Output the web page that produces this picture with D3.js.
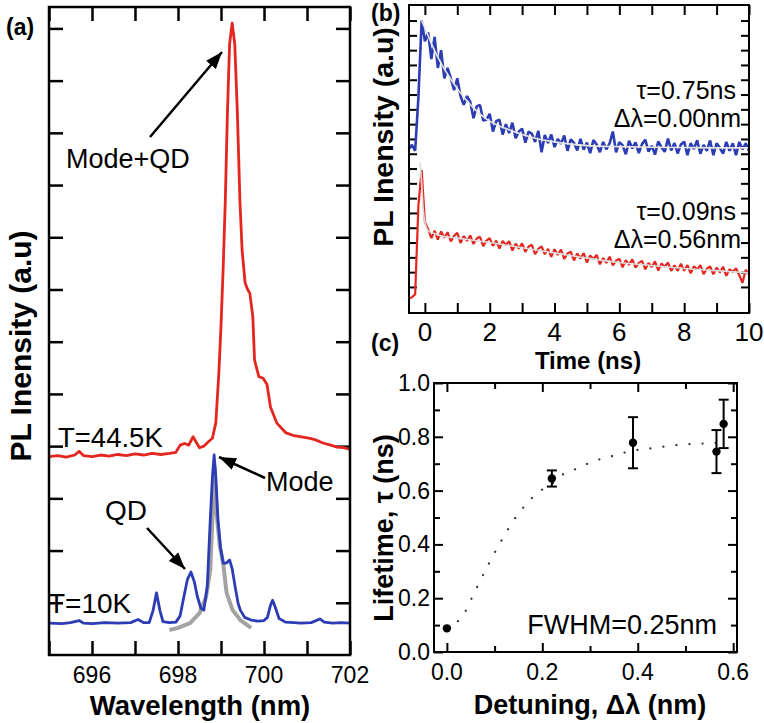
<!DOCTYPE html>
<html><head><meta charset="utf-8">
<script src="https://cdn.jsdelivr.net/npm/d3@7"></script>
<style>body{margin:0;background:#fff}svg{display:block}text{font-family:"Liberation Sans",Arial,sans-serif;fill:#000}</style>
</head><body><svg id="fig" width="764" height="723"></svg>
<script>
// ---------- Panel (a): PL spectra ----------
const redWl = [695.00,695.20,695.40,695.60,695.70,695.80,696.00,696.20,696.40,696.60,696.80,697.00,697.20,697.40,697.60,697.80,697.95,698.05,698.15,698.25,698.35,698.42,698.50,698.60,698.70,698.80,698.88,698.95,699.00,699.05,699.10,699.15,699.20,699.26,699.32,699.38,699.44,699.49,699.56,699.62,699.67,699.74,699.78,699.88,699.98,700.07,700.15,700.30,700.50,700.70,700.84,701.07,701.20,701.37,701.55,701.70,701.85,702.00];
const redI  = [3.80,3.82,3.79,3.83,3.90,3.82,3.80,3.83,3.81,3.84,3.82,3.85,3.83,3.86,3.84,3.86,3.88,4.02,4.05,4.02,4.18,4.08,3.97,4.00,4.08,4.15,4.45,5.40,6.30,7.40,8.70,10.4,11.7,12.1,11.7,10.4,8.70,7.76,7.13,7.00,6.93,6.48,5.65,5.33,5.30,5.18,4.75,4.44,4.26,4.20,4.18,4.15,4.12,4.06,4.02,3.98,3.97,3.94];
const blueWl = [695.00,695.30,695.50,695.70,695.80,696.00,696.30,696.60,696.90,697.07,697.20,697.33,697.42,697.50,697.58,697.65,697.80,697.95,698.05,698.12,698.22,698.30,698.38,698.45,698.53,698.60,698.68,698.75,698.80,698.84,698.88,698.93,698.99,699.05,699.12,699.20,699.26,699.33,699.40,699.45,699.55,699.70,699.85,700.00,700.08,700.15,700.20,700.26,700.35,700.50,700.70,700.85,701.10,701.30,701.40,701.60,701.80,702.00];
const blueI  = [0.61,0.60,0.62,0.66,0.61,0.60,0.62,0.61,0.62,0.68,0.62,0.62,0.85,1.19,0.85,0.64,0.62,0.63,0.75,1.05,1.45,1.59,1.40,1.12,0.90,0.86,1.30,2.58,3.40,3.83,3.40,2.58,2.05,1.76,1.76,1.82,1.65,1.30,0.98,0.86,0.72,0.67,0.65,0.66,0.72,0.95,1.05,0.92,0.70,0.63,0.62,0.61,0.62,0.69,0.63,0.61,0.62,0.61];
const grayWl = [697.80,698.00,698.28,698.50,698.65,698.75,698.80,698.85,698.90,698.97,699.05,699.13,699.27,699.45,699.70];
const grayI  = [0.48,0.52,0.61,0.80,1.10,1.63,2.60,3.60,2.70,2.10,1.76,1.19,0.86,0.67,0.52];
const aXTicks = [695,696,697,698,699,700,701,702];
const aXLabels = [696,698,700,702];
const aYTicks = [1,2,3,4,5,6,7,8,9,10,11,12];

// ---------- Panel (b): PL decay ----------
const bTime = [-0.5,-0.4,-0.3,-0.2,-0.1,0.0,0.1,0.2,0.3,0.4,0.5,0.6,0.7,0.8,0.9,1.0,1.1,1.2,1.3,1.4,1.5,1.6,1.7,1.8,1.9,2.0,2.1,2.2,2.3,2.4,2.5,2.6,2.7,2.8,2.9,3.0,3.1,3.2,3.3,3.4,3.5,3.6,3.7,3.8,3.9,4.0,4.1,4.2,4.3,4.4,4.5,4.6,4.7,4.8,4.9,5.0,5.1,5.2,5.3,5.4,5.5,5.6,5.7,5.8,5.9,6.0,6.1,6.2,6.3,6.4,6.5,6.6,6.7,6.8,6.9,7.0,7.1,7.2,7.3,7.4,7.5,7.6,7.7,7.8,7.9,8.0,8.1,8.2,8.3,8.4,8.5,8.6,8.7,8.8,8.9,9.0,9.1,9.2,9.3,9.4,9.5,9.6,9.7,9.8,9.9,10.0];
const bBlue = [9.3,9.6,9.2,12.8,18.0,16.6,17.2,15.4,16.9,14.8,16.0,14.1,14.8,14.1,13.3,14.1,12.9,12.3,12.9,12.5,11.4,12.2,12.3,11.25,11.3,11.7,10.5,11.2,11.3,10.3,11.0,10.4,11.1,10.05,10.5,10.7,9.75,10.5,10.35,9.8,10.55,9.1,10.27,9.73,10.3,9.45,10.0,9.67,10.24,9.2,9.97,9.74,9.22,10.0,9.28,9.75,9.04,9.93,9.62,9.11,9.8,9.3,9.7,10.5,9.09,9.78,9.58,8.97,9.87,9.36,9.76,9.05,9.65,9.95,9.14,9.54,8.94,9.83,9.43,9.13,10.03,9.22,9.72,9.02,9.62,9.82,8.91,9.71,9.31,9.91,9.0,9.6,9.2,9.9,8.9,9.7,9.4,9.0,9.8,9.2,9.7,8.9,9.8,9.3,9.7,9.2];
const bRed = [-0.8,-0.7,-0.5,5.5,7.9,4.4,3.9,3.3,3.8,3.2,3.75,3.32,3.7,3.07,3.45,3.65,2.97,3.44,3.11,3.48,2.9,3.27,3.39,2.76,3.13,3.3,2.77,3.13,2.6,3.11,2.83,3.09,2.46,2.92,2.59,2.95,2.37,2.73,2.85,2.21,2.58,2.74,2.21,2.57,2.04,2.55,2.17,2.53,1.9,2.26,2.38,1.79,2.26,1.92,2.29,1.65,2.12,1.89,2.16,1.53,1.95,1.62,2.04,1.46,1.78,1.9,1.33,1.81,1.49,1.87,1.3,1.63,1.76,1.19,1.62,1.35,1.73,1.11,1.59,1.37,1.65,1.08,1.46,1.09,1.57,1.1,1.48,0.92,1.4,1.19,1.47,0.86,1.24,1.38,0.86,1.3,0.98,1.37,0.75,1.19,1.02,1.26,0.79,0.28,1.16,0.85];
const bBlueFitT = [-0.1,0,0.25,0.5,0.75,1,1.25,1.5,1.75,2,2.5,3,3.5,4,4.5,5,6,7,8,9,10];
const bBlueFit  = [18.0,17.5,16.2,15.1,14.2,13.4,12.7,12.1,11.6,11.2,10.7,10.3,10.0,9.8,9.65,9.55,9.48,9.44,9.42,9.4,9.4];
const bRedFitT = [-0.15,-0.1,-0.05,0,0.05,0.1,0.3,0.5,1,2,3,4,5,6,7,8,9,10];
const bRedFit  = [8.4,7.0,5.2,4.4,4.0,3.8,3.6,3.45,3.3,3.0,2.65,2.3,1.95,1.65,1.45,1.25,1.1,0.95];
const bXTicks = [0,1,2,3,4,5,6,7,8,9,10];
const bXLabels = [0,2,4,6,8,10];
const bYTicks = [0,1,2,3,4,5,6,7,8,9,10,11,12,13,14,15,16,17,18];

// ---------- Panel (c): lifetime vs detuning ----------
const cDetuning = [0.0,0.22,0.39,0.565,0.58];
const cLifetime = [0.088,0.645,0.778,0.745,0.848];
const cError    = [0.0,0.03,0.095,0.08,0.09];
const cFitDet = [0.0,0.019,0.035,0.06,0.087,0.113,0.146,0.165,0.19,0.22,0.24,0.27,0.295,0.32,0.35,0.38,0.43,0.48,0.51,0.56,0.58];
const cFitTau = [0.09,0.108,0.14,0.23,0.325,0.41,0.505,0.547,0.592,0.625,0.657,0.68,0.70,0.716,0.73,0.745,0.758,0.769,0.773,0.777,0.78];
const cXMajor = [0,0.2,0.4,0.6], cXMinor = [0.1,0.3,0.5];
const cYMajor = [0,0.2,0.4,0.6,0.8,1.0], cYMinor = [0.1,0.3,0.5,0.7,0.9];

const svg = d3.select("#fig");
const defs = svg.append("defs");
defs.append("marker").attr("id","ah").attr("viewBox","0 0 16 12").attr("refX",16).attr("refY",6)
  .attr("markerWidth",17).attr("markerHeight",13).attr("markerUnits","userSpaceOnUse").attr("orient","auto")
  .append("path").attr("d","M0,0 L16,6 L0,12 Z").attr("fill","#000");

function ticks(g, axisFn, scale, vals, len, tr, sw) {
  const a = g.append("g").attr("transform", tr)
    .call(axisFn(scale).tickValues(vals).tickSizeInner(-len).tickSizeOuter(0).tickFormat(""));
  a.select(".domain").remove();
  a.selectAll("line").attr("stroke","#000").attr("stroke-width", sw || 2);
  a.selectAll("text").remove();
  return a;
}
function frame(g, x, y, sw) {
  const [l,r] = x.range(), [b,t] = y.range();
  g.append("rect").attr("x",l).attr("y",t).attr("width",r-l).attr("height",b-t)
    .attr("fill","none").attr("stroke","#000").attr("stroke-width",sw);
}

// ===== Panel (a) =====
{
  const g = svg.append("g");
  const x = d3.scaleLinear().domain([695,702]).range([49,350]);
  const y = d3.scaleLinear().domain([0,12.41]).range([655,7]);
  ticks(g, d3.axisBottom, x, aXTicks, 14, "translate(0,655)", 2.5);
  ticks(g, d3.axisTop, x, aXTicks, 14, "translate(0,7)", 2.5);
  ticks(g, d3.axisLeft, y, aYTicks, 14, "translate(49,0)", 2.5);
  ticks(g, d3.axisRight, y, aYTicks, 14, "translate(350,0)", 2.5);
  const line = d3.line().x(d=>x(d[0])).y(d=>y(d[1]));
  g.append("path").datum(grayWl.map((w,i)=>[w,grayI[i]])).attr("d",line).attr("fill","none")
    .attr("stroke","#a3a3a3").attr("stroke-width",4).attr("stroke-linejoin","round");
  g.append("path").datum(blueWl.map((w,i)=>[w,blueI[i]])).attr("d",line).attr("fill","none")
    .attr("stroke","#2b3cb4").attr("stroke-width",2.8).attr("stroke-linejoin","round");
  g.append("path").datum(redWl.map((w,i)=>[w,redI[i]])).attr("d",line).attr("fill","none")
    .attr("stroke","#e5261f").attr("stroke-width",2.8).attr("stroke-linejoin","round");
  frame(g, x, y, 2.5);
  g.selectAll("text.xl").data(aXLabels).join("text").attr("x",d=>x(d)).attr("y",683)
    .attr("text-anchor","middle").attr("font-size",23).text(d=>d);
  g.append("text").attr("x",200).attr("y",715).attr("text-anchor","middle").attr("font-size",27.5)
    .attr("font-weight","bold").text("Wavelength (nm)");
  g.append("text").attr("transform","translate(31,346) rotate(-90)").attr("text-anchor","middle")
    .attr("font-size",30).attr("font-weight","bold").text("PL Inensity (a.u)");
  g.append("text").attr("x",6).attr("y",35).attr("font-size",23).attr("font-weight","bold").text("(a)");
  g.append("text").attr("x",66).attr("y",168).attr("font-size",27).text("Mode+QD");
  g.append("text").attr("x",58).attr("y",447).attr("font-size",27.5).text("T=44.5K");
  g.append("text").attr("x",48).attr("y",613).attr("font-size",28).text("T=10K");
  g.append("text").attr("x",105).attr("y",520).attr("font-size",28).text("QD");
  g.append("text").attr("x",266).attr("y",491).attr("font-size",27).text("Mode");
  const arrows = [[150,137,222,52],[265,478,219,457],[147,528,185,569]];
  g.selectAll("line.ar").data(arrows).join("line").attr("x1",d=>d[0]).attr("y1",d=>d[1])
    .attr("x2",d=>d[2]).attr("y2",d=>d[3]).attr("stroke","#000").attr("stroke-width",2.5)
    .attr("marker-end","url(#ah)");
}

// ===== Panel (b) =====
{
  const g = svg.append("g");
  const x = d3.scaleLinear().domain([-0.49,10]).range([409,749]);
  const y = d3.scaleLinear().domain([-1.76,19.05]).range([313,5]);
  ticks(g, d3.axisBottom, x, bXTicks, 10, "translate(0,313)", 2);
  ticks(g, d3.axisTop, x, bXTicks, 10, "translate(0,5)", 2);
  ticks(g, d3.axisLeft, y, bYTicks, 8, "translate(409,0)", 2);
  ticks(g, d3.axisRight, y, bYTicks, 8, "translate(749,0)", 2);
  const line = d3.line().x(d=>x(d[0])).y(d=>y(d[1]));
  g.append("path").datum(bTime.map((t,i)=>[t,bBlue[i]])).attr("d",line).attr("fill","none")
    .attr("stroke","#2b3cb4").attr("stroke-width",2.6).attr("stroke-linejoin","bevel");
  g.append("path").datum(bTime.map((t,i)=>[t,bRed[i]])).attr("d",line).attr("fill","none")
    .attr("stroke","#e5261f").attr("stroke-width",2.2).attr("stroke-linejoin","bevel");
  const fl = d3.line().curve(d3.curveMonotoneX).x(d=>x(d[0])).y(d=>y(d[1]));
  g.append("path").datum(bBlueFitT.map((t,i)=>[t,bBlueFit[i]])).attr("d",fl).attr("fill","none")
    .attr("stroke","#e8e6dc").attr("stroke-width",1.6);
  g.append("path").datum(bRedFitT.map((t,i)=>[t,bRedFit[i]])).attr("d",fl).attr("fill","none")
    .attr("stroke","#dcdcdc").attr("stroke-width",1.6);
  frame(g, x, y, 2);
  g.selectAll("text.xl").data(bXLabels).join("text").attr("x",d=>x(d)).attr("y",341)
    .attr("text-anchor","middle").attr("font-size",26).text(d=>d);
  g.append("text").attr("x",588).attr("y",369).attr("text-anchor","middle").attr("font-size",24)
    .attr("font-weight","bold").text("Time (ns)");
  g.append("text").attr("transform","translate(393,137) rotate(-90)").attr("text-anchor","middle")
    .attr("font-size",28.5).attr("font-weight","bold").text("PL Inensity (a.u)");
  g.append("text").attr("x",371).attr("y",21).attr("font-size",23).attr("font-weight","bold").text("(b)");
  const ann = [["τ=0.75ns",736,99],["Δλ=0.00nm",741,127],["τ=0.09ns",736,220],["Δλ=0.56nm",741,248]];
  g.selectAll("text.an").data(ann).join("text").attr("x",d=>d[1]).attr("y",d=>d[2])
    .attr("text-anchor","end").attr("font-size",25).text(d=>d[0]);
}

// ===== Panel (c) =====
{
  const g = svg.append("g");
  const x = d3.scaleLinear().domain([-0.027,0.608]).range([434,737]);
  const y = d3.scaleLinear().domain([0,1]).range([652,383]);
  ticks(g, d3.axisBottom, x, cXMajor, 9, "translate(0,652)", 2);
  ticks(g, d3.axisBottom, x, cXMinor, 6, "translate(0,652)", 2);
  ticks(g, d3.axisTop, x, cXMajor, 9, "translate(0,383)", 2);
  ticks(g, d3.axisTop, x, cXMinor, 6, "translate(0,383)", 2);
  ticks(g, d3.axisLeft, y, cYMajor, 9, "translate(434,0)", 2);
  ticks(g, d3.axisLeft, y, cYMinor, 6, "translate(434,0)", 2);
  ticks(g, d3.axisRight, y, cYMajor, 9, "translate(737,0)", 2);
  ticks(g, d3.axisRight, y, cYMinor, 6, "translate(737,0)", 2);
  const fl = d3.line().curve(d3.curveMonotoneX).x(d=>x(d[0])).y(d=>y(d[1]));
  g.append("path").datum(cFitDet.map((d,i)=>[d,cFitTau[i]])).attr("d",fl).attr("fill","none")
    .attr("stroke","#333").attr("stroke-width",2.2).attr("stroke-linecap","round")
    .attr("stroke-dasharray","0.1 13");
  const pts = cDetuning.map((d,i)=>({x:d,y:cLifetime[i],e:cError[i]}));
  const eb = pts.filter(p=>p.e>0);
  g.selectAll("line.eb").data(eb).join("line").attr("x1",p=>x(p.x)).attr("x2",p=>x(p.x))
    .attr("y1",p=>y(p.y-p.e)).attr("y2",p=>y(p.y+p.e)).attr("stroke","#000").attr("stroke-width",2);
  g.selectAll("line.ct").data(eb).join("line").attr("x1",p=>x(p.x)-5).attr("x2",p=>x(p.x)+5)
    .attr("y1",p=>y(p.y+p.e)).attr("y2",p=>y(p.y+p.e)).attr("stroke","#000").attr("stroke-width",2);
  g.selectAll("line.cb").data(eb).join("line").attr("x1",p=>x(p.x)-5).attr("x2",p=>x(p.x)+5)
    .attr("y1",p=>y(p.y-p.e)).attr("y2",p=>y(p.y-p.e)).attr("stroke","#000").attr("stroke-width",2);
  g.selectAll("circle.pt").data(pts).join("circle").attr("cx",p=>x(p.x)).attr("cy",p=>y(p.y))
    .attr("r",4.2).attr("fill","#000");
  frame(g, x, y, 2);
  g.selectAll("text.xl").data(cXMajor).join("text").attr("x",d=>x(d)).attr("y",680)
    .attr("text-anchor","middle").attr("font-size",23).text(d=>d.toFixed(1));
  g.selectAll("text.yl").data(cYMajor).join("text").attr("x",430).attr("y",d=>y(d)+8)
    .attr("text-anchor","end").attr("font-size",23).text(d=>d.toFixed(1));
  g.append("text").attr("x",590).attr("y",714).attr("text-anchor","middle").attr("font-size",27)
    .attr("font-weight","bold").text("Detuning, Δλ (nm)");
  g.append("text").attr("transform","translate(393,528) rotate(-90)").attr("text-anchor","middle")
    .attr("font-size",27).attr("font-weight","bold").text("Lifetime, τ (ns)");
  g.append("text").attr("x",371).attr("y",351).attr("font-size",23).attr("font-weight","bold").text("(c)");
  g.append("text").attr("x",717).attr("y",634).attr("text-anchor","end").attr("font-size",27).text("FWHM=0.25nm");
}
</script></body></html>
